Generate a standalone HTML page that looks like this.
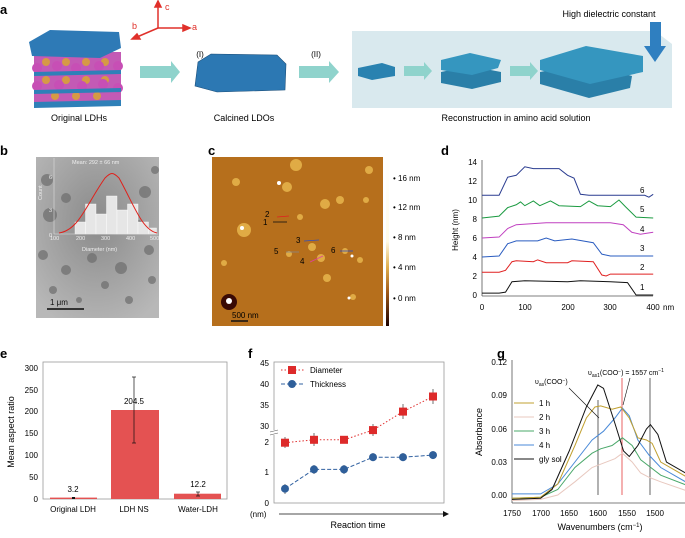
<!DOCTYPE html>
<html><head><meta charset="utf-8"><style>
html,body{margin:0;padding:0;background:#fff}
svg{display:block;font-family:"Liberation Sans",sans-serif}
.ns{vector-effect:non-scaling-stroke;fill:none}
</style></head><body>
<svg width="685" height="538" viewBox="0 0 685 538" xmlns="http://www.w3.org/2000/svg">
<defs>
<radialGradient id="tem" cx="50%" cy="40%" r="70%"><stop offset="0" stop-color="#8a8a8a"/><stop offset="1" stop-color="#b8b8b8"/></radialGradient>
<clipPath id="gclip"><rect x="512" y="355" width="173" height="150"/></clipPath>
<linearGradient id="cb" x1="0" y1="0" x2="0" y2="1"><stop offset="0" stop-color="#fff"/><stop offset="0.5" stop-color="#fffbe8"/><stop offset="0.65" stop-color="#e0b050"/><stop offset="0.8" stop-color="#a05a18"/><stop offset="1" stop-color="#1a0000"/></linearGradient>
</defs>
<!-- Panel a -->
<text x="0" y="14" font-size="13" font-weight="bold">a</text>
<g stroke="#e0302a" stroke-width="1.5" fill="#e0302a">
<line x1="158" y1="28" x2="158" y2="5"/><polygon points="155,7 161,7 158,1"/>
<line x1="158" y1="28" x2="184" y2="28"/><polygon points="183,25 183,31 190,28"/>
<line x1="158" y1="28" x2="137" y2="37"/><polygon points="137,34 140,39 132,39"/>
</g>
<text x="165" y="10" font-size="9" fill="#e0302a">c</text>
<text x="192" y="30" font-size="9" fill="#e0302a">a</text>
<text x="132" y="29" font-size="9" fill="#e0302a">b</text>
<g>
<rect x="34" y="52" width="87" height="50" fill="#c35ab5"/>
<g fill="#d69a45"><circle cx="46" cy="62" r="4"/><circle cx="66" cy="62" r="4"/><circle cx="86" cy="62" r="4"/><circle cx="105" cy="62" r="4"/><circle cx="46" cy="80" r="4"/><circle cx="66" cy="80" r="4"/><circle cx="86" cy="80" r="4"/><circle cx="105" cy="80" r="4"/><circle cx="55" cy="96" r="4"/><circle cx="76" cy="96" r="4"/><circle cx="97" cy="96" r="4"/></g>
<g fill="#c74fb5"><circle cx="37" cy="68" r="5"/><circle cx="57" cy="66" r="5"/><circle cx="76" cy="68" r="5"/><circle cx="99" cy="66" r="5"/><circle cx="118" cy="66" r="5"/><circle cx="37" cy="86" r="5"/><circle cx="59" cy="85" r="5"/><circle cx="82" cy="86" r="5"/><circle cx="103" cy="84" r="5"/><circle cx="118" cy="88" r="5"/></g>
<polygon points="34,72 121,70 121,74 34,76" fill="#2f80b8"/>
<polygon points="34,90 121,88 121,92 34,94" fill="#2f80b8"/>
<polygon points="34,102 121,100 121,106 34,108" fill="#2f80b8"/>
<polygon points="29,42 50,30 119,32 121,48 100,58 32,56" fill="#2e7ab6"/>
</g>
<polygon points="140,66 171,66 171,61 180,72 171,83 171,78 140,78" fill="#8fd3cc"/>
<polygon points="198,62 211,54 277,55 286,64 285,90 217,92 195,86" fill="#2c78b3" stroke="#1c4f7a" stroke-width="0.6"/>
<polygon points="299,66 329,66 329,61 339,72 329,83 329,78 299,78" fill="#8fd3cc"/>
<polygon points="352,31 655,31 672,44 672,108 352,108" fill="#d9e9ee"/>
<polygon points="358,68 382,63 395,67 395,76 372,80 358,76" fill="#2a82b0"/>
<polygon points="404,66 424,66 424,62 432,71 424,80 424,76 404,76" fill="#8fd3cc"/>
<polygon points="441,72 470,66 501,72 501,82 472,89 441,83" fill="#2a7fa8"/>
<polygon points="441,60 470,53 501,60 498,68 472,75 441,70" fill="#3596bf"/>
<polygon points="510,66 530,66 530,62 538,71 530,80 530,76 510,76" fill="#8fd3cc"/>
<polygon points="540,72 586,63 632,76 630,88 589,98 540,84" fill="#2a7fa8"/>
<polygon points="540,60 586,46 643,56 643,72 590,84 540,70" fill="#3596bf"/>
<polygon points="650,22 661,22 661,46 666,46 655,62 644,46 650,46" fill="#2f7fc0"/>
<text x="609" y="17" font-size="9" text-anchor="middle">High dielectric constant</text>
<text x="200" y="57" font-size="8" text-anchor="middle">(I)</text>
<text x="316" y="57" font-size="8" text-anchor="middle">(II)</text>
<text x="79" y="121" font-size="9" text-anchor="middle">Original LDHs</text>
<text x="244" y="121" font-size="9" text-anchor="middle">Calcined LDOs</text>
<text x="516" y="121" font-size="9" text-anchor="middle">Reconstruction in amino acid solution</text>

<!-- Panel b -->
<text x="0" y="155" font-size="13" font-weight="bold">b</text>
<rect x="36" y="157" width="123" height="161" fill="url(#tem)"/>
<g fill="#6d6d6d" opacity="0.7">
<circle cx="47" cy="180" r="6"/><circle cx="50" cy="215" r="7"/><circle cx="66" cy="198" r="5"/><circle cx="145" cy="192" r="6"/><circle cx="138" cy="225" r="5"/><circle cx="149" cy="250" r="5"/><circle cx="43" cy="255" r="5"/><circle cx="66" cy="270" r="5"/><circle cx="92" cy="258" r="5"/><circle cx="121" cy="268" r="6"/><circle cx="152" cy="280" r="4"/><circle cx="53" cy="290" r="4"/><circle cx="105" cy="285" r="4"/><circle cx="129" cy="300" r="4"/><circle cx="79" cy="300" r="3"/><circle cx="155" cy="170" r="4"/></g>
<g fill="#e6e6e6" stroke="#fff" stroke-width="0.4">
<rect x="75" y="222" width="10.5" height="12"/><rect x="85.5" y="204" width="10.5" height="30"/><rect x="96" y="214" width="10.5" height="20"/><rect x="106.5" y="196" width="10.5" height="38"/><rect x="117" y="210" width="10.5" height="24"/><rect x="127.5" y="204" width="10.5" height="30"/><rect x="138" y="222" width="10.5" height="12"/><rect x="148.5" y="228" width="8" height="6"/></g>
<path d="M59,233 C79,230 86,205 105,178 C111,172 113,172 119,178 C134,205 142,230 157,233" fill="none" stroke="#e0201a" stroke-width="1"/>
<line x1="54" y1="158" x2="54" y2="234" stroke="#ddd" stroke-width="0.6"/><line x1="54" y1="234" x2="158" y2="234" stroke="#ddd" stroke-width="0.6"/>
<g font-size="5.5" fill="#eee"><text x="72" y="164">Mean: 292 ± 66 nm</text><text x="50" y="240">100</text><text x="76" y="240">200</text><text x="101" y="240">300</text><text x="126" y="240">400</text><text x="150" y="240">500</text><text x="82" y="251">Diameter (nm)</text><text x="49" y="237">0</text><text x="49" y="212">3</text><text x="49" y="179">6</text><text x="42" y="200" transform="rotate(-90 42 200)">Count</text></g>
<line x1="47" y1="309" x2="84" y2="309" stroke="#333" stroke-width="2"/>
<text x="50" y="305" font-size="8" fill="#111">1 μm</text>

<!-- Panel c -->
<text x="208" y="155" font-size="13" font-weight="bold">c</text>
<rect x="212" y="157" width="171" height="169" fill="#b66f1c"/>
<g fill="#e0ab45"><circle cx="287" cy="187" r="5"/><circle cx="244" cy="230" r="7"/><circle cx="300" cy="217" r="3"/><circle cx="312" cy="247" r="4"/><circle cx="289" cy="254" r="3"/><circle cx="321" cy="258" r="4"/><circle cx="345" cy="251" r="3"/><circle cx="360" cy="260" r="3"/><circle cx="325" cy="204" r="5"/><circle cx="340" cy="200" r="4"/><circle cx="327" cy="278" r="4"/><circle cx="353" cy="297" r="3"/><circle cx="236" cy="182" r="4"/><circle cx="366" cy="200" r="3"/><circle cx="369" cy="170" r="4"/><circle cx="224" cy="263" r="3"/><circle cx="296" cy="165" r="6"/></g>
<g fill="#fff"><circle cx="279" cy="183" r="2"/><circle cx="242" cy="228" r="2"/><circle cx="352" cy="256" r="1.5"/><circle cx="349" cy="298" r="1.5"/></g>
<circle cx="229" cy="302" r="8" fill="#3a0a05"/><circle cx="229" cy="301" r="3" fill="#fff"/>
<g stroke-width="0.8"><line x1="273" y1="222" x2="287" y2="222" stroke="#111"/><line x1="277" y1="217" x2="289" y2="216" stroke="#e02020"/><line x1="304" y1="241" x2="319" y2="240" stroke="#3050c0"/><line x1="286" y1="252" x2="299" y2="252" stroke="#888"/><line x1="310" y1="262" x2="323" y2="256" stroke="#e040a0"/><line x1="340" y1="251" x2="353" y2="251" stroke="#3050c0"/></g>
<g font-size="8"><text x="265" y="217">2</text><text x="263" y="225">1</text><text x="296" y="243">3</text><text x="274" y="254">5</text><text x="300" y="264">4</text><text x="331" y="253">6</text><text x="232" y="318">500 nm</text></g>
<line x1="231" y1="321" x2="248" y2="321" stroke="#111" stroke-width="1.5"/>
<rect x="386" y="157" width="3" height="169" fill="url(#cb)"/>
<g font-size="8"><text x="393" y="181">• 16 nm</text><text x="393" y="210">• 12 nm</text><text x="393" y="240">• 8 nm</text><text x="393" y="270">• 4 nm</text><text x="393" y="301">• 0 nm</text></g>

<!-- Panel d -->
<text x="441" y="155" font-size="13" font-weight="bold">d</text>
<g stroke="#555" stroke-width="0.8"><line x1="482" y1="160" x2="482" y2="296"/><line x1="482" y1="296" x2="653" y2="296"/></g>
<g font-size="8" text-anchor="end"><text x="477" y="298">0</text><text x="477" y="279">2</text><text x="477" y="260">4</text><text x="477" y="241">6</text><text x="477" y="222">8</text><text x="477" y="203">10</text><text x="477" y="184">12</text><text x="477" y="165">14</text></g>
<g font-size="8" text-anchor="middle"><text x="482" y="310">0</text><text x="525" y="310">100</text><text x="568" y="310">200</text><text x="610" y="310">300</text><text x="653" y="310">400</text></g>
<text x="663" y="310" font-size="8">nm</text>
<text x="458" y="230" font-size="8" transform="rotate(-90 458 230)" text-anchor="middle">Height (nm)</text>
<g transform="translate(482,295) scale(0.428,-9.5)">
<polyline class="ns" stroke="#111" points="0,0.2 40,0.2 55,0.3 70,1.4 100,1.5 200,1.4 230,1.5 300,1.4 340,1.3 360,0 400,0"/>
<polyline class="ns" stroke="#e02020" points="0,2.4 40,2.4 55,2.6 70,3.5 80,3.6 120,3.5 130,3.7 150,3.4 200,3.4 210,3.6 260,3.5 280,2.1 290,2.0 300,2.2 400,2.2"/>
<polyline class="ns" stroke="#2a5cc0" points="0,4 40,4.1 60,5.4 80,5.7 130,5.7 150,6.0 170,5.7 210,5.9 260,5.5 280,4.3 300,4.1 400,4.1"/>
<polyline class="ns" stroke="#c040c0" points="0,6 40,6.1 60,7.0 80,7.4 150,7.6 300,7.6 330,7.4 350,6.6 370,6.4 400,6.6"/>
<polyline class="ns" stroke="#1a9a40" points="0,8.1 40,8.3 60,9.2 80,9.5 90,9.8 100,9.4 120,9.9 135,9.4 160,9.9 180,9.4 230,9.3 250,9.9 270,9.4 300,9.3 320,10.0 335,9.3 360,8.2 400,8.1"/>
<polyline class="ns" stroke="#2a3c90" points="0,10.5 40,10.5 60,12.4 80,12.6 100,13.5 120,13.3 180,13.3 200,12.6 215,12.3 230,10.6 250,10.5 380,10.5 390,10.3 400,10.6"/>
</g>
<g font-size="8"><text x="640" y="290">1</text><text x="640" y="270">2</text><text x="640" y="251">3</text><text x="640" y="232">4</text><text x="640" y="212">5</text><text x="640" y="193">6</text></g>

<!-- Panel e -->
<text x="0" y="358" font-size="13" font-weight="bold">e</text>
<rect x="43" y="362" width="184" height="137" fill="none" stroke="#999" stroke-width="0.8"/>
<g font-size="8" text-anchor="end"><text x="38" y="502">0</text><text x="38" y="480">50</text><text x="38" y="458">100</text><text x="38" y="436">150</text><text x="38" y="414">200</text><text x="38" y="393">250</text><text x="38" y="371">300</text></g>
<text x="14" y="432" font-size="9" transform="rotate(-90 14 432)" text-anchor="middle">Mean aspect ratio</text>
<g fill="#e45252"><rect x="50" y="497.6" width="47" height="1.4"/><rect x="111" y="410" width="48" height="89"/><rect x="174" y="493.7" width="47" height="5.3"/></g>
<g stroke="#111" stroke-width="0.7"><line x1="134" y1="377" x2="134" y2="443"/><line x1="132" y1="377" x2="136" y2="377"/><line x1="132" y1="443" x2="136" y2="443"/><line x1="198" y1="492" x2="198" y2="496"/><line x1="196" y1="492" x2="200" y2="492"/><line x1="196" y1="496" x2="200" y2="496"/></g>
<rect x="72" y="497" width="3" height="2" fill="#111"/>
<g font-size="8" text-anchor="middle"><text x="73" y="492">3.2</text><text x="134" y="404">204.5</text><text x="198" y="487">12.2</text><text x="73" y="512">Original LDH</text><text x="134" y="512">LDH NS</text><text x="198" y="512">Water-LDH</text></g>

<!-- Panel f -->
<text x="248" y="358" font-size="13" font-weight="bold">f</text>
<rect x="274" y="362" width="170" height="141" fill="none" stroke="#999" stroke-width="0.8"/>
<g font-size="8" text-anchor="end"><text x="269" y="366">45</text><text x="269" y="387">40</text><text x="269" y="408">35</text><text x="269" y="429">30</text><text x="269" y="445">2</text><text x="269" y="475">1</text><text x="269" y="506">0</text></g>
<rect x="270" y="430" width="8" height="5" fill="#fff"/>
<line x1="270" y1="432" x2="278" y2="430" stroke="#555" stroke-width="0.6"/><line x1="270" y1="435" x2="278" y2="433" stroke="#555" stroke-width="0.6"/>
<polyline points="285,442.7 314,439.8 344,439.8 373,430.1 403,411.6 433,396.5" fill="none" stroke="#e03030" stroke-width="1" stroke-dasharray="1.5,2"/>
<polyline points="285,488.7 314,469.4 344,469.4 373,457.2 403,457.2 433,455.1" fill="none" stroke="#3060a0" stroke-width="1" stroke-dasharray="4,2"/>
<g stroke="#111" stroke-width="0.6">
<line x1="285" y1="437" x2="285" y2="448"/><line x1="314" y1="433" x2="314" y2="446"/><line x1="344" y1="436" x2="344" y2="443"/><line x1="373" y1="424" x2="373" y2="436"/><line x1="403" y1="404" x2="403" y2="419"/><line x1="433" y1="389" x2="433" y2="404"/>
<line x1="285" y1="484" x2="285" y2="494"/><line x1="314" y1="465" x2="314" y2="474"/><line x1="344" y1="465" x2="344" y2="474"/><line x1="373" y1="453" x2="373" y2="461"/><line x1="403" y1="453" x2="403" y2="461"/><line x1="433" y1="451" x2="433" y2="459"/></g>
<g fill="#dd2a2a"><rect x="281" y="438.7" width="8" height="8"/><rect x="310" y="435.8" width="8" height="8"/><rect x="340" y="435.8" width="8" height="8"/><rect x="369" y="426.1" width="8" height="8"/><rect x="399" y="407.6" width="8" height="8"/><rect x="429" y="392.5" width="8" height="8"/></g>
<g fill="#2f5f9a"><circle cx="285" cy="488.7" r="4"/><circle cx="314" cy="469.4" r="4"/><circle cx="344" cy="469.4" r="4"/><circle cx="373" cy="457.2" r="4"/><circle cx="403" cy="457.2" r="4"/><circle cx="433" cy="455.1" r="4"/></g>
<line x1="281" y1="370" x2="304" y2="370" stroke="#e03030" stroke-dasharray="1.5,2"/><rect x="288" y="366" width="8" height="8" fill="#dd2a2a"/>
<line x1="281" y1="384" x2="304" y2="384" stroke="#3060a0" stroke-dasharray="4,2"/><circle cx="292" cy="384" r="4" fill="#2f5f9a"/>
<g font-size="8"><text x="310" y="373">Diameter</text><text x="310" y="387">Thickness</text><text x="250" y="517">(nm)</text></g>
<line x1="279" y1="514" x2="444" y2="514" stroke="#111" stroke-width="0.7"/><polygon points="443,511 449,514 443,517" fill="#111"/>
<text x="358" y="528" font-size="9" text-anchor="middle">Reaction time</text>

<!-- Panel g -->
<text x="497" y="358" font-size="13" font-weight="bold">g</text>
<g stroke="#555" stroke-width="0.8"><line x1="512" y1="360" x2="512" y2="503"/><line x1="512" y1="503" x2="685" y2="503"/></g>
<g font-size="8" text-anchor="end"><text x="507" y="365">0.12</text><text x="507" y="398">0.09</text><text x="507" y="432">0.06</text><text x="507" y="465">0.03</text><text x="507" y="498">0.00</text></g>
<g font-size="8" text-anchor="middle"><text x="512" y="516">1750</text><text x="541" y="516">1700</text><text x="569" y="516">1650</text><text x="598" y="516">1600</text><text x="627" y="516">1550</text><text x="655" y="516">1500</text></g>
<text x="600" y="530" font-size="9" text-anchor="middle">Wavenumbers (cm<tspan dy="-3" font-size="6">−1</tspan><tspan dy="3">)</tspan></text>
<text x="482" y="432" font-size="9" transform="rotate(-90 482 432)" text-anchor="middle">Absorbance</text>
<line x1="598" y1="400" x2="598" y2="495" stroke="#222" stroke-width="0.7"/>
<line x1="622" y1="378" x2="622" y2="495" stroke="#e02020" stroke-width="0.7"/>
<line x1="650" y1="378" x2="650" y2="495" stroke="#222" stroke-width="0.7"/>
<g clip-path="url(#gclip)"><g transform="translate(1513,495) scale(-0.572,-1100)">
<polyline class="ns" stroke="#e8c8bf" points="1750,-0.005 1700,-0.004 1670,0 1640,0.012 1610,0.025 1595,0.028 1570,0.033 1557,0.038 1540,0.03 1525,0.02 1510,0.016 1490,0.012 1440,0.003"/>
<polyline class="ns" stroke="#4aa86a" points="1750,-0.003 1700,-0.002 1670,0.005 1640,0.025 1610,0.038 1595,0.042 1575,0.045 1557,0.052 1540,0.045 1525,0.032 1510,0.026 1490,0.018 1440,0.008"/>
<polyline class="ns" stroke="#4a8ad8" points="1750,0.001 1700,0.001 1670,0.01 1640,0.03 1610,0.05 1590,0.058 1570,0.07 1557,0.079 1545,0.072 1530,0.05 1510,0.036 1490,0.025 1440,0.01"/>
<polyline class="ns" stroke="#c0a030" points="1750,-0.003 1700,-0.002 1670,0.01 1640,0.045 1620,0.07 1605,0.08 1595,0.081 1575,0.078 1560,0.08 1545,0.07 1530,0.052 1515,0.05 1505,0.047 1490,0.03 1440,0.015"/>
<polyline class="ns" stroke="#111" points="1750,-0.004 1700,-0.003 1680,0.005 1650,0.04 1620,0.08 1600,0.1 1590,0.097 1570,0.065 1555,0.04 1545,0.035 1530,0.045 1515,0.06 1508,0.064 1495,0.055 1480,0.03 1440,0.018"/>
</g></g>
<g stroke-width="1"><line x1="514" y1="403" x2="534" y2="403" stroke="#c0a030"/><line x1="514" y1="417" x2="534" y2="417" stroke="#e8c8bf"/><line x1="514" y1="431" x2="534" y2="431" stroke="#4aa86a"/><line x1="514" y1="445" x2="534" y2="445" stroke="#4a8ad8"/><line x1="514" y1="459" x2="534" y2="459" stroke="#111"/></g>
<g font-size="8"><text x="539" y="406">1 h</text><text x="539" y="420">2 h</text><text x="539" y="434">3 h</text><text x="539" y="448">4 h</text><text x="539" y="462">gly sol</text></g>
<g font-size="7"><text x="535" y="384">υ<tspan font-size="5" dy="2">as</tspan><tspan dy="-2">(COO</tspan><tspan font-size="5" dy="-2">−</tspan><tspan dy="2">)</tspan></text>
<text x="588" y="375">υ<tspan font-size="5" dy="2">as1</tspan><tspan dy="-2">(COO</tspan><tspan font-size="5" dy="-2">−</tspan><tspan dy="2">) = 1557 cm</tspan><tspan font-size="5" dy="-3">−1</tspan></text></g>
<g stroke="#111" stroke-width="0.6"><line x1="569" y1="388" x2="599" y2="418"/><line x1="630" y1="378" x2="623" y2="405"/></g>
</svg>
</body></html>
